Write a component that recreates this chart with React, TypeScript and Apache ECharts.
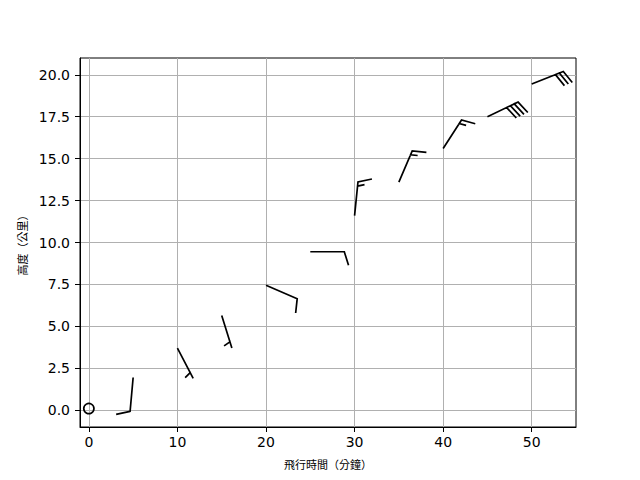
import React, { useEffect, useRef } from "react";
import * as echarts from "echarts";

// Flight time (minutes) at which each wind barb is plotted
const flightTime = [0, 5, 10, 15, 20, 25, 30, 35, 40, 45, 50];
// Altitude (km) of each barb
const altitude = [0.1, 1.95, 3.7, 5.65, 7.45, 9.45, 11.6, 13.6, 15.6, 17.5, 19.45];
// Wind components (u eastward, v northward)
const windU = [0, 0.9, -2.3, -1.5, -9.2, -10, -1.5, -5.9, -8.1, -36, -27.9];
const windV = [0, 10, 4.4, 4.8, 4.0, 0, -14.9, -13.8, -12.6, -17.2, -11.1];

const xTicks = [0, 10, 20, 30, 40, 50];
const yTicks = [0, 2.5, 5, 7.5, 10, 12.5, 15, 17.5, 20];

const xLabel = "飛行時間（分鐘）";
const yLabel = "高度（公里）";

const BARB_LEN = 34;
const BARB_WIDTH = 1.7;

function renderBarb(params: any, api: any) {
  const x = api.value(0);
  const y = api.value(1);
  const u = api.value(2);
  const v = api.value(3);
  const [bx, by] = api.coord([x, y]);
  const L = BARB_LEN;
  const style = { stroke: "#000", lineWidth: BARB_WIDTH, fill: "none" };
  const raw = Math.hypot(u, v);
  let mag = 5 * Math.round(raw / 5);
  const nFlags = Math.floor(mag / 50);
  mag -= nFlags * 50;
  const nBarbs = Math.floor(mag / 10);
  mag -= nBarbs * 10;
  const half = mag >= 5;
  if (!half && nFlags === 0 && nBarbs === 0) {
    return {
      type: "circle",
      shape: { cx: bx, cy: by, r: 0.15 * L },
      style,
    };
  }
  const sx = -u / raw;
  const sy = v / raw;
  const px = -sy;
  const py = sx;
  const P = (a: number, b: number) => [bx + b * sx + a * px, by + b * sy + a * py];
  const H = 0.4 * L;
  const W = 0.25 * L;
  const SP = 0.125 * L;
  const pts: number[][] = [P(0, 0)];
  const flagPolys: any[] = [];
  let offset = L;
  for (let i = 0; i < nFlags; i++) {
    if (offset !== L) offset += SP / 2;
    flagPolys.push({
      type: "polygon",
      shape: { points: [P(0, offset), P(H, offset - W / 2), P(0, offset - W)] },
      style: { fill: "#000", stroke: "#000", lineWidth: BARB_WIDTH },
    });
    pts.push(P(0, offset), P(0, offset - W));
    offset -= W + SP;
  }
  for (let i = 0; i < nBarbs; i++) {
    pts.push(P(0, offset), P(H, offset + W / 2), P(0, offset));
    offset -= SP;
  }
  if (half) {
    if (offset === L) {
      pts.push(P(0, offset));
      offset -= 1.5 * SP;
    }
    pts.push(P(0, offset), P(H / 2, offset + W / 4), P(0, offset));
  }
  return {
    type: "group",
    children: [
      { type: "polyline", shape: { points: pts }, style },
      ...flagPolys,
    ],
  };
}

export default function App() {
  const ref = useRef<HTMLDivElement>(null);
  useEffect(() => {
    if (!ref.current) return;
    const chart = echarts.init(ref.current, undefined, { renderer: "svg" });
    const data = flightTime.map((t, i) => [t, altitude[i], windU[i], windV[i]]);
    const axisCommon = {
      type: "value" as const,
      nameLocation: "middle" as const,
      nameTextStyle: {
        fontFamily: "Noto Sans CJK TC",
        fontSize: 11,
        color: "#000",
      },
      axisLine: { show: true, onZero: false, lineStyle: { color: "#000", width: 1 } },
      splitLine: { show: true, lineStyle: { color: "#b0b0b0", width: 1 } },
    };
    chart.setOption({
      animation: false,
      grid: {
        left: 80,
        right: 64,
        top: 58,
        bottom: 53,
        show: true,
        borderColor: "#000",
        borderWidth: 1,
        backgroundColor: "transparent",
      },
      xAxis: {
        ...axisCommon,
        min: -1,
        max: 55,
        name: xLabel,
        nameGap: 31,
        axisTick: {
          show: true,
          length: 5,
          lineStyle: { color: "#000", width: 1 },
          customValues: xTicks,
        },
        axisLabel: {
          customValues: xTicks,
          color: "#000",
          fontSize: 14,
          fontFamily: "DejaVu Sans",
          margin: 8,
          formatter: (val: number) => String(val),
        },
      },
      yAxis: {
        ...axisCommon,
        min: -1,
        max: 21,
        name: yLabel,
        nameGap: 53,
        nameRotate: 90,
        axisTick: {
          show: true,
          length: 5,
          lineStyle: { color: "#000", width: 1 },
          customValues: yTicks,
        },
        axisLabel: {
          customValues: yTicks,
          color: "#000",
          fontSize: 14,
          fontFamily: "DejaVu Sans",
          margin: 10,
          formatter: (val: number) => val.toFixed(1),
        },
      },
      series: [
        {
          type: "custom",
          renderItem: renderBarb,
          data,
          encode: { x: 0, y: 1 },
          clip: false,
          silent: true,
        },
      ],
    });
    return () => chart.dispose();
  }, []);
  return (
    <div
      ref={ref}
      style={{ position: "absolute", left: 0, top: 0, width: 640, height: 480 }}
    />
  );
}
